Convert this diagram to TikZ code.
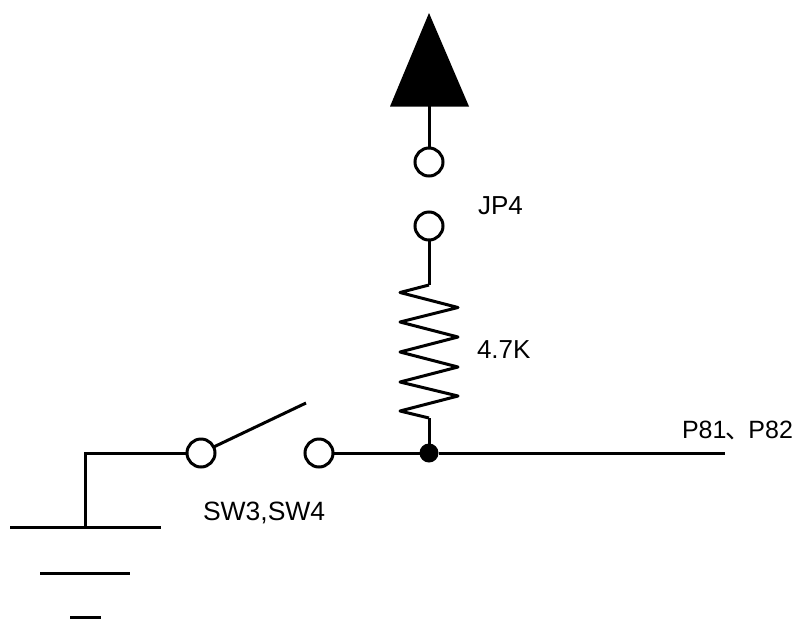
\documentclass[tikz,border=0pt]{standalone}
\usepackage{fontspec}
\setmainfont{Liberation Sans}
\newfontfamily\cjk{Noto Sans CJK SC}
\tikzset{
  wire/.style={line width=3pt,line cap=butt,line join=miter},
  term/.style={circle,draw,line width=3pt,fill=white,minimum size=28pt,inner sep=0pt,outer sep=0pt},
  dot/.style={circle,fill=black,minimum size=19pt,inner sep=0pt,outer sep=0pt},
  lbl/.style={inner sep=0pt,outer sep=0pt,anchor=base west,font=\fontsize{26}{30}\selectfont},
}
\begin{document}
\begin{tikzpicture}[x=1pt,y=-1pt]
\useasboundingbox (0,0) rectangle (798,619);
% supply triangle
\coordinate (apex) at (429,13);
\coordinate (bl) at (390,106.5);
\coordinate (br) at (469,106.5);
\coordinate (tb) at (429,106);
\fill[black] (apex) -- (br) -- (bl) -- cycle;
% terminals
\node[term] (jpa) at (429,162) {};
\node[term] (jpb) at (429,226) {};
\node[term] (swa) at (201,453) {};
\node[term] (swb) at (319,453) {};
\node[dot] (j) at (429,453) {};
\coordinate (out) at (725,453);
\coordinate (blade) at (306,403);
\coordinate (rt) at (429,285);
\coordinate (rb) at (429,418);
\coordinate (gc) at (85,453);
\coordinate (gt) at (85,527);
\coordinate (g1a) at (10,527);
\coordinate (g1b) at (161,527);
\coordinate (g2a) at (40,573);
\coordinate (g2b) at (130,573);
\coordinate (g3a) at (70,617);
\coordinate (g3b) at (101,617);
% connectors
\draw[wire] (tb) -- (jpa);
\draw[wire] (jpb) -- (rt);
\draw[wire,line join=round] (rt) -- (400,292.5) -- (458,307.5) -- (400,322) -- (458,337) -- (400,352) -- (458,367) -- (400,382) -- (458,396) -- (400,411) -- (rb);
\draw[wire] (rb) -- (j);
\draw[wire] (swb) -- (j);
\draw[wire] (j) -- (out);
\draw[wire] (swa) -- (blade);
\draw[wire] (swa) -- (gc) -- (gt);
\draw[wire] (g1a) -- (g1b);
\draw[wire] (g2a) -- (g2b);
\draw[wire] (g3a) -- (g3b);
% labels
\node[lbl] (ljp) at (478,214) {JP4};
\node[lbl] (lr) at (477,358) {4.7K};
\node[lbl] (lsw) at (203,520) {\fontsize{26.5}{30}\selectfont SW3,SW4};
\node[lbl] (lp) at (682,438) {\fontsize{25}{30}\selectfont P81\hspace{-1pt}{\cjk\fontsize{25}{30}\selectfont 、}\hspace{-2pt}P82};
\end{tikzpicture}
\end{document}
